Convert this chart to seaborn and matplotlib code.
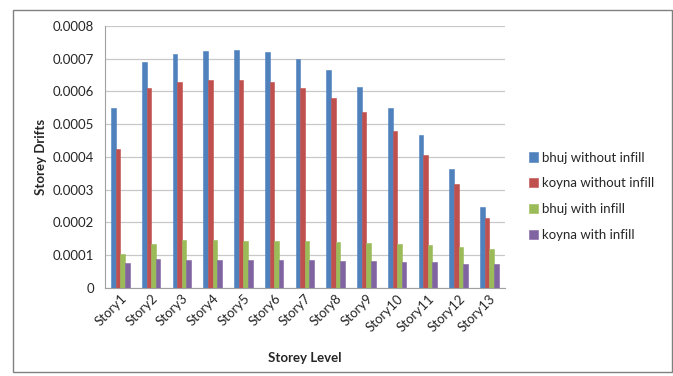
import matplotlib
matplotlib.use("Agg")
import matplotlib.pyplot as plt
import seaborn as sns
import pandas as pd
from matplotlib.patches import Rectangle

stories = [f"Story{i}" for i in range(1, 14)]
series = ["bhuj without infill", "koyna without infill", "bhuj with infill", "koyna with infill"]
bhuj_without = [0.000550, 0.000690, 0.000715, 0.000725, 0.000727, 0.000719, 0.000700,
                0.000664, 0.000615, 0.000550, 0.000467, 0.000364, 0.000248]
koyna_without = [0.000425, 0.000610, 0.000628, 0.000634, 0.000636, 0.000628, 0.000610,
                 0.000580, 0.000536, 0.000480, 0.000405, 0.000318, 0.000215]
bhuj_with = [0.000103, 0.000135, 0.000148, 0.000146, 0.000145, 0.000144, 0.000143,
             0.000141, 0.000138, 0.000135, 0.000130, 0.000125, 0.000120]
koyna_with = [0.000077, 0.000090, 0.000087, 0.000087, 0.000087, 0.000085, 0.000085,
              0.000083, 0.000082, 0.000080, 0.000078, 0.000073, 0.000072]
colors = ["#4F81BD", "#C0504D", "#9BBB59", "#8064A2"]

df = pd.DataFrame({
    "story": stories * 4,
    "series": sum([[s] * len(stories) for s in series], []),
    "drift": bhuj_without + koyna_without + bhuj_with + koyna_with,
})

sns.set_style("white")
plt.rcParams["font.family"] = ["Lato", "DejaVu Sans"]

fig = plt.figure(figsize=(6.73, 3.76), dpi=100)
ax = fig.add_axes([0.156, 0.234, 0.594, 0.697])
sns.barplot(data=df, x="story", y="drift", hue="series", palette=colors,
            width=0.6, gap=0, saturation=1, ax=ax, linewidth=0)
for bar in ax.patches:
    bar.set_edgecolor(bar.get_facecolor())
    bar.set_linewidth(0.4)

ax.set_ylim(0, 0.0008)
ax.set_yticks([i * 0.0001 for i in range(9)])
ax.set_yticklabels(["0"] + [f"{i * 0.0001:.4f}" for i in range(1, 9)], fontsize=9.5)
ax.yaxis.grid(True, color="#C8C8C8", linewidth=0.9)
ax.set_axisbelow(True)
for side in ["top", "right"]:
    ax.spines[side].set_visible(False)
for side in ["left", "bottom"]:
    ax.spines[side].set_color("#A0A0A0")
ax.tick_params(axis="x", labelsize=9.5, rotation=45, length=0, pad=3)
for lbl in ax.get_xticklabels():
    lbl.set_ha("right")
    lbl.set_rotation_mode("anchor")
ax.tick_params(axis="y", length=4, color="#A0A0A0", pad=4)
ax.set_xlabel("Storey Level", fontsize=9.5, fontweight="bold", labelpad=13)
ax.set_ylabel("Storey Drifts", fontsize=9.5, fontweight="bold", labelpad=4)
ax.set_xlim(-0.5, len(stories) - 0.5)

ax.legend(loc="center left", bbox_to_anchor=(1.03, 0.35), frameon=False, fontsize=9.5,
          handlelength=0.7, handleheight=0.7, handletextpad=0.3, labelspacing=1.05)

fig.patches.append(Rectangle((13 / 673, 4 / 376), 659 / 673, 362 / 376, transform=fig.transFigure,
                             fill=False, edgecolor="#808080", linewidth=1))

fig.savefig("out.png", dpi=100)
